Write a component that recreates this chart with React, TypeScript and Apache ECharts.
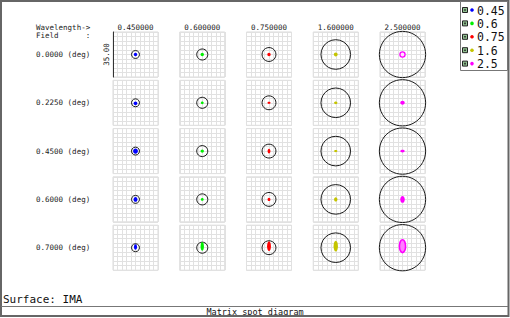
import React, { useEffect, useRef } from "react";
import * as echarts from "echarts";

// Wavelengths (µm) and fields (deg)
const wavelengthLegend = ["0.45", "0.6", "0.75", "1.6", "2.5"];
const wavelengthHeaders = ["0.450000", "0.600000", "0.750000", "1.600000", "2.500000"];
const fieldLabels = ["0.0000 (deg)", "0.2250 (deg)", "0.4500 (deg)", "0.6000 (deg)", "0.7000 (deg)"];
const wavelengthColors = ["#0000ff", "#00f000", "#ff0000", "#c4c400", "#ff00ff"];

// Airy disk radius per wavelength (µm)
const airyRadius = [3.1, 4.3, 5.4, 11.5, 18.0];

// Spot extents per wavelength (rows) per field (columns), in µm
const spotWidth = [
  [2.6, 3.0, 3.8, 3.0, 2.4],
  [2.6, 2.2, 2.6, 2.2, 2.6],
  [2.6, 2.4, 2.2, 2.2, 3.0],
  [3.0, 2.6, 2.6, 2.6, 3.4],
  [4.0, 3.5, 3.5, 3.5, 4.8],
];
const spotHeight = [
  [2.6, 3.0, 4.2, 3.8, 4.3],
  [2.6, 2.2, 2.6, 2.2, 6.8],
  [2.6, 1.8, 3.8, 2.6, 7.6],
  [3.0, 2.2, 1.7, 3.4, 8.4],
  [4.0, 3.0, 2.2, 5.4, 10.0],
];
const spotOffsetY = [
  [0, -0.4, 0, 0, 0.6],
  [0, 0, 0, 0, 1.0],
  [0, 0, 0, 0, 1.2],
  [0, 0, 0, 0, 1.2],
  [0, 0, 0, 0, 1.2],
];
// 0 = filled, 1 = ring with empty centre, 2 = dense outline with lighter centre
const spotHollow = [
  [0, 0, 0, 0, 0],
  [0, 0, 0, 0, 0],
  [0, 0, 0, 0, 0],
  [0, 0, 0, 0, 0],
  [1, 0, 0, 0, 2],
];

// Box size: 35.00 µm
const boxSize = 35;
const scaleLabel = "35.00";

const MONO = "'DejaVu Sans Mono', 'Liberation Mono', monospace";

export default function App() {
  const ref = useRef<HTMLDivElement>(null);
  useEffect(() => {
    if (!ref.current) return;
    const chart = echarts.init(ref.current, undefined, { renderer: "svg" });
    const cellW = 45;
    const colX0 = 113;
    const colStep = 66.75;
    const rowY0 = 32;
    const rowStep = 48.3;
    const half = boxSize / 2;

    const grids: any[] = [];
    const xAxes: any[] = [];
    const yAxes: any[] = [];
    const series: any[] = [];
    const graphics: any[] = [];

    let idx = 0;
    for (let f = 0; f < fieldLabels.length; f++) {
      for (let w = 0; w < wavelengthHeaders.length; w++) {
        grids.push({
          left: colX0 + w * colStep,
          top: rowY0 + f * rowStep,
          width: cellW,
          height: cellW,
          show: true,
          borderColor: "#dadada",
          borderWidth: 1,
        });
        const axisCommon = {
          type: "value",
          gridIndex: idx,
          min: -half,
          max: half,
          interval: boxSize / 10,
          axisLabel: { show: false },
          axisTick: { show: false },
          axisLine: { show: false },
          splitLine: { show: true, lineStyle: { color: "#e1e1e1", width: 1 } },
        };
        xAxes.push({ ...axisCommon });
        if (idx === 0) {
          yAxes.push({
            ...axisCommon,
            axisLine: { show: true, onZero: false, lineStyle: { color: "#333", width: 1 } },
            name: scaleLabel,
            nameLocation: "middle",
            nameRotate: 90,
            nameGap: 3,
            nameTextStyle: { fontFamily: MONO, fontSize: 7.5, color: "#222" },
          });
        } else {
          yAxes.push({ ...axisCommon });
        }
        const color = wavelengthColors[w];
        series.push({
          type: "custom",
          name: wavelengthLegend[w],
          xAxisIndex: idx,
          yAxisIndex: idx,
          clip: false,
          data: [[0, spotOffsetY[w][f], spotWidth[w][f], spotHeight[w][f], airyRadius[w], spotHollow[w][f]]],
          renderItem: (params: any, api: any) => {
            const o = api.coord([0, 0]);
            const c = api.coord([api.value(0), api.value(1)]);
            const rA = api.size([api.value(4), 0])[0];
            const rx = api.size([api.value(2), 0])[0] / 2;
            const ry = api.size([0, api.value(3)])[1] / 2;
            const kind = api.value(5);
            const style =
              kind === 1
                ? { fill: "#ffe0ff", stroke: color, lineWidth: 1.3 }
                : kind === 2
                ? { fill: "#ff80ff", stroke: color, lineWidth: 1.6 }
                : { fill: color };
            return {
              type: "group",
              children: [
                {
                  type: "circle",
                  shape: { cx: o[0], cy: o[1], r: rA },
                  style: { fill: "none", stroke: "#1a1a1a", lineWidth: 1 },
                },
                {
                  type: "ellipse",
                  shape: { cx: c[0], cy: c[1], rx, ry },
                  style,
                },
              ],
            };
          },
        });
        idx++;
      }
    }

    // Column headers
    wavelengthHeaders.forEach((h, w) => {
      graphics.push({
        type: "text",
        x: colX0 + w * colStep + cellW / 2,
        y: 27.5,
        style: { text: h, fontFamily: MONO, fontSize: 7.5, fill: "#222", align: "center", verticalAlign: "middle" },
      });
    });
    graphics.push({
      type: "text", x: 36, y: 27.5,
      style: { text: "Wavelength->", fontFamily: MONO, fontSize: 7.5, fill: "#222", verticalAlign: "middle" },
    });
    graphics.push({
      type: "text", x: 36, y: 35.5,
      style: { text: "Field      :", fontFamily: MONO, fontSize: 7.5, fill: "#222", verticalAlign: "middle" },
    });
    fieldLabels.forEach((l, f) => {
      graphics.push({
        type: "text",
        x: 36,
        y: rowY0 + f * rowStep + cellW / 2,
        style: { text: l, fontFamily: MONO, fontSize: 7.5, fill: "#222", verticalAlign: "middle" },
      });
    });

    // Frame
    graphics.push({
      type: "rect",
      shape: { x: 1, y: 1, width: 507.5, height: 315 },
      style: { fill: "none", stroke: "#666", lineWidth: 2 },
      z: 10,
    });
    graphics.push({
      type: "line",
      shape: { x1: 1, y1: 306.5, x2: 508, y2: 306.5 },
      style: { stroke: "#777", lineWidth: 1 },
      z: 10,
    });
    graphics.push({
      type: "text", x: 255, y: 311.5,
      style: { text: "Matrix spot diagram", fontFamily: MONO, fontSize: 8.5, fill: "#111", align: "center", verticalAlign: "middle" },
    });
    graphics.push({
      type: "text", x: 3, y: 299.5,
      style: { text: "Surface: IMA", fontFamily: MONO, fontSize: 11, fill: "#111", verticalAlign: "middle" },
    });

    // Legend box
    graphics.push({
      type: "rect",
      shape: { x: 460.5, y: 1.5, width: 47, height: 69 },
      style: { fill: "#fff", stroke: "#777", lineWidth: 1 },
      z: 11,
    });
    wavelengthLegend.forEach((l, w) => {
      const cy = 10 + w * 13.4;
      graphics.push({
        type: "rect",
        shape: { x: 462.5, y: cy - 2.5, width: 5, height: 5 },
        style: { fill: "#8fc08f", stroke: "#222", lineWidth: 1 },
        z: 12,
      });
      graphics.push({
        type: "rect",
        shape: { x: 464.2, y: cy - 0.8, width: 1.6, height: 1.6 },
        style: { fill: "#222" },
        z: 12,
      });
      graphics.push({
        type: "circle",
        shape: { cx: 472, cy, r: 1.8 },
        style: { fill: wavelengthColors[w] },
        z: 12,
      });
      graphics.push({
        type: "text",
        x: 477,
        y: cy + 0.5,
        z: 12,
        style: { text: l, fontFamily: MONO, fontSize: 11.5, fill: "#111", verticalAlign: "middle" },
      });
    });

    chart.setOption({
      animation: false,
      backgroundColor: "#fff",
      grid: grids,
      xAxis: xAxes,
      yAxis: yAxes,
      series,
      graphic: graphics,
    });
    return () => chart.dispose();
  }, []);
  return (
    <div
      ref={ref}
      style={{ position: "fixed", left: 0, top: 0, width: 510, height: 318 }}
    />
  );
}
